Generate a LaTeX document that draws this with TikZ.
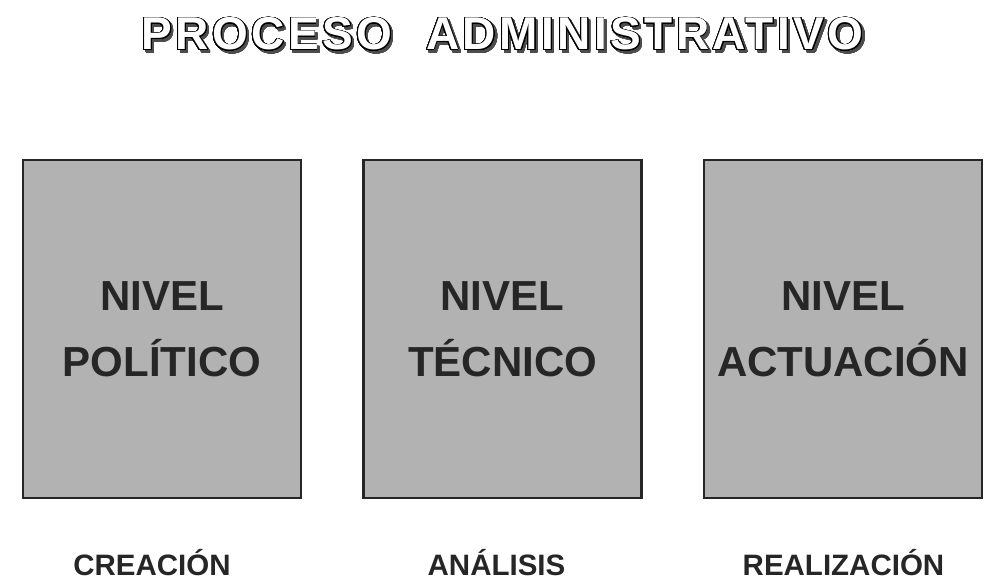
\documentclass[tikz,border=0pt]{standalone}
\usepackage{fontspec}
\setmainfont{Liberation Sans}
\usepackage{contour}
\contournumber{32}
\usetikzlibrary{positioning}

\begin{document}
\begin{tikzpicture}[x=1pt, y=-1pt,
  level/.style={rectangle, draw=black!85, line width=2.6pt, fill=black!30, align=center,
    minimum width=278pt, minimum height=338pt, inner sep=0pt,
    font=\bfseries\fontsize{42}{66}\selectfont, text=black!85},
  stage/.style={anchor=base, font=\bfseries\fontsize{29.5}{31}\selectfont, text=black!85},
  headline/.style={anchor=base, font=\bfseries\fontsize{46}{50}\selectfont\addfontfeatures{LetterSpace=7.5}},
]
\useasboundingbox (0,0) rectangle (986,580);

% === title, outlined with a shadow ===
\contourlength{0.9pt}
\node[headline, text=black!70] (titleshadow) at (505, 52.5)
  {\contour{black!70}{PROCESO\hspace{34pt}ADMINISTRATIVO}};
\node[headline, text=white] (title) at (502.5, 50)
  {\contour{black}{PROCESO\hspace{34pt}ADMINISTRATIVO}};

% === levels ===
\node[level] (pol) at (162, 329) {NIVEL\\POLÍTICO};
\node[level] (tec) at (502.5, 329) {NIVEL\\TÉCNICO};
\node[level] (act) at (843, 329) {NIVEL\\ACTUACIÓN};

% === stages ===
\node[stage] (crea) at (152, 575) {CREACIÓN};
\node[stage] (anal) at (496.5, 575) {ANÁLISIS};
\node[stage] (real) at (843.5, 575) {REALIZACIÓN};

\end{tikzpicture}
\end{document}
